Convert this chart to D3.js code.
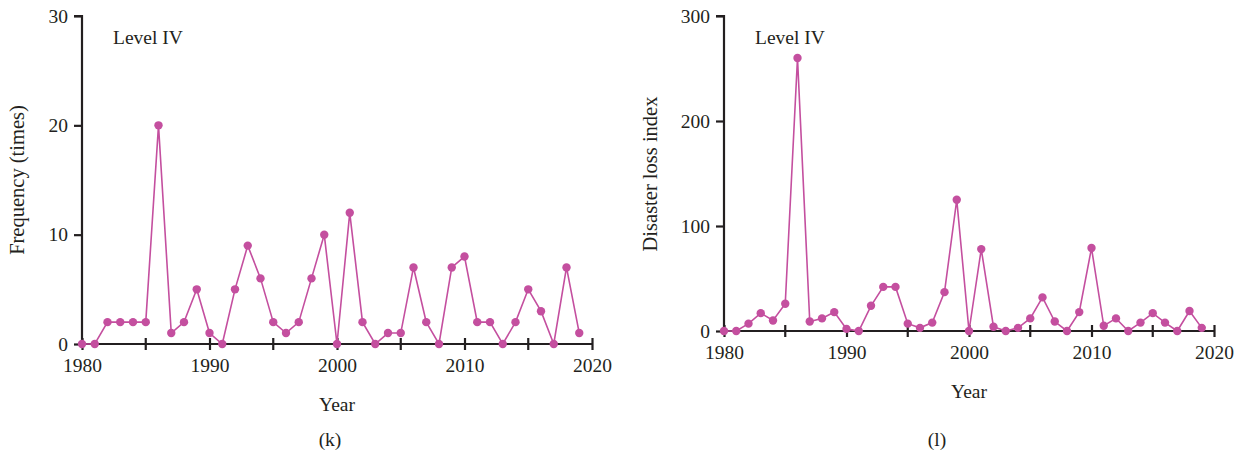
<!DOCTYPE html>
<meta charset="utf-8">
<head>
<script src="https://cdn.jsdelivr.net/npm/d3@7"></script>
<style>
body { margin: 0; background: #fff; }
text { font-family: "Liberation Serif", "DejaVu Serif", serif; fill: #231f20; }
.axis path, .axis line { stroke: #231f20; stroke-width: 2.2px; }
</style>
</head>
<body>
<svg id="chart" width="1242" height="455"></svg>
<script>
// years 1980 - 2019
var years = d3.range(1980, 2020);

var frequency = [0, 0, 2, 2, 2, 2, 20, 1, 2, 5,
                 1, 0, 5, 9, 6, 2, 1, 2, 6, 10,
                 0, 12, 2, 0, 1, 1, 7, 2, 0, 7,
                 8, 2, 2, 0, 2, 5, 3, 0, 7, 1];

var lossIndex = [0, 0, 7, 17, 10, 26, 260, 9, 12, 18,
                 2, 0, 24, 42, 42, 7, 3, 8, 37, 125,
                 0, 78, 4, 0, 3, 12, 32, 9, 0, 18,
                 79, 5, 12, 0, 8, 17, 8, 0, 19, 3];

var xTicks = [1980, 1990, 2000, 2010, 2020];
var xMinor = [1985, 1995, 2005, 2015];
var freqTicks = [0, 10, 20, 30];
var lossTicks = [0, 100, 200, 300];

var color = "#c44f9f";
var fs = "19.5px";
var svg = d3.select("#chart");

function panel(opt) {
  var x = d3.scaleLinear().domain([1980, 2020]).range([opt.x0, opt.x1]);
  var y = d3.scaleLinear().domain(opt.ydom).range([opt.y0, opt.y1]);
  var g = svg.append("g");

  // y axis
  var ya = g.append("g").attr("class", "axis")
      .attr("transform", "translate(" + opt.x0 + ",0)")
      .call(d3.axisLeft(y).tickValues(opt.yticks).tickSize(8).tickPadding(6).tickFormat(d3.format("d")));
  ya.select(".domain").attr("d", "M0," + opt.y0 + "V" + opt.y1 + "H-8");
  ya.selectAll("text").style("font-size", fs);

  // x axis
  var xa = g.append("g").attr("class", "axis")
      .attr("transform", "translate(0," + opt.y0 + ")")
      .call(d3.axisBottom(x).tickValues(xTicks).tickSize(6).tickPadding(8).tickFormat(d3.format("d")));
  xa.select(".domain").attr("d", "M" + opt.x0 + ",0H" + opt.x1);
  xa.selectAll(".tick line").attr("y1", -6);
  xa.selectAll("text").style("font-size", fs);
  xa.selectAll(".minor").data(xMinor).enter().append("line")
      .attr("x1", function(d) { return x(d); }).attr("x2", function(d) { return x(d); })
      .attr("y1", -6).attr("y2", 6);

  var line = d3.line().x(function(d, i) { return x(years[i]); }).y(function(d) { return y(d); });
  g.append("path").datum(opt.values)
      .attr("d", line).attr("fill", "none").attr("stroke", color).attr("stroke-width", 1.6);
  g.selectAll(".dot").data(opt.values).enter().append("circle")
      .attr("cx", function(d, i) { return x(years[i]); })
      .attr("cy", function(d) { return y(d); })
      .attr("r", 4.2).attr("fill", color);

  g.append("text").attr("x", opt.x0 + 31).attr("y", opt.y1 + 28)
      .style("font-size", fs).text("Level IV");

  g.append("text").attr("transform", "translate(" + opt.ylx + "," + opt.yly + ") rotate(-90)")
      .attr("text-anchor", "middle").style("font-size", "20.5px").text(opt.ylabel);

  g.append("text").attr("x", (opt.x0 + opt.x1) / 2).attr("y", opt.xly)
      .attr("text-anchor", "middle").style("font-size", fs).text("Year");

  g.append("text").attr("x", opt.capx).attr("y", 446)
      .attr("text-anchor", "middle").style("font-size", fs).text(opt.caption);
}

panel({x0: 82, x1: 592, y0: 344, y1: 16, ydom: [0, 30], yticks: freqTicks,
       values: frequency, ylabel: "Frequency (times)", ylx: 24, yly: 180,
       xly: 411, caption: "(k)", capx: 330});

panel({x0: 724, x1: 1214, y0: 331, y1: 16, ydom: [0, 300], yticks: lossTicks,
       values: lossIndex, ylabel: "Disaster loss index", ylx: 657, yly: 174,
       xly: 398, caption: "(l)", capx: 937});
</script>
</body>
